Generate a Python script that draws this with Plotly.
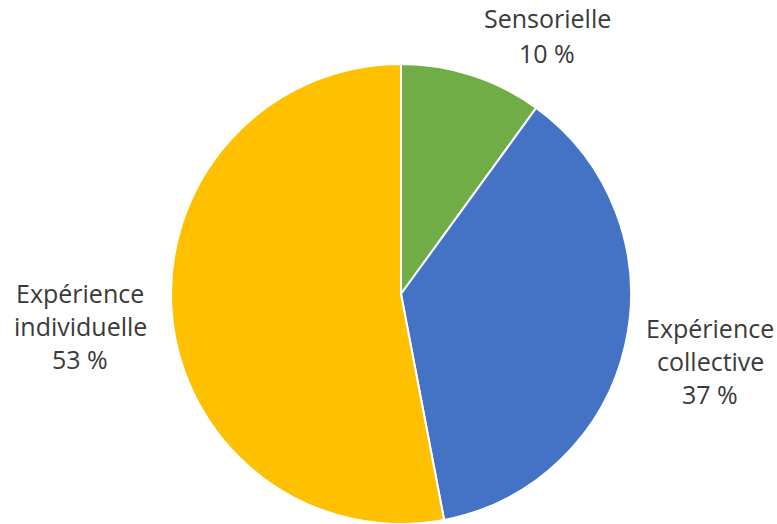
import plotly.graph_objects as go

categories = ["Sensorielle", "Expérience collective", "Expérience individuelle"]
values = [10, 37, 53]
colors = ["#70AD47", "#4472C4", "#FFC000"]
label_lines = [["Sensorielle", "10 %"], ["Expérience", "collective", "37 %"], ["Expérience", "individuelle", "53 %"]]

W, H = 777, 524

fig = go.Figure(go.Pie(
    labels=categories, values=values, sort=False, direction="clockwise", rotation=0,
    marker=dict(colors=colors, line=dict(color="white", width=2)),
    textinfo="none", hoverinfo="label+percent", showlegend=False,
    domain=dict(x=[171 / W, 631 / W], y=[0, 1 - 64 / H]),
))

# label anchor positions (pixel center x, first-line center y, line spacing)
anchors = [(547, 18, 35), (710, 328, 33), (80, 293, 33)]
annotations = []
for lines, (cx, cy, sp) in zip(label_lines, anchors):
    for i, t in enumerate(lines):
        annotations.append(dict(
            text=t, x=cx / W, y=1 - (cy + i * sp) / H, xref="paper", yref="paper",
            showarrow=False, xanchor="center", yanchor="middle",
            font=dict(family="'Open Sans', Lato, sans-serif", size=25, color="#3a3a3a"),
        ))

fig.update_layout(
    width=W, height=H, margin=dict(l=0, r=0, t=0, b=0),
    paper_bgcolor="white", plot_bgcolor="white", annotations=annotations,
)
fig.write_html("out.html")
